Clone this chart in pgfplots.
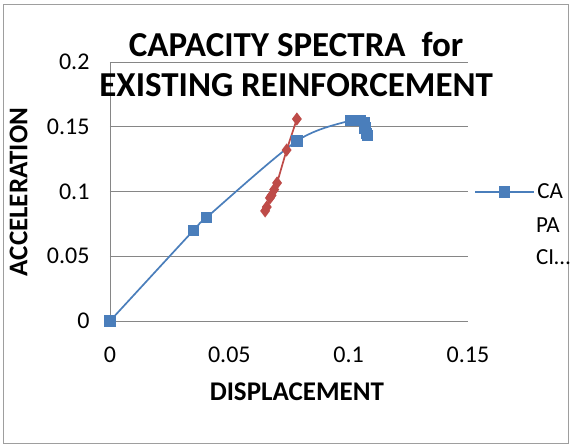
\documentclass[border=0pt]{standalone}
\usepackage{pgfplots}
\pgfplotsset{compat=1.18}
\usepackage{fontspec}
\setmainfont{Carlito}
\definecolor{serA}{HTML}{4A7EBB}
\definecolor{serB}{HTML}{BE4B48}
\definecolor{gridc}{HTML}{868686}
\begin{document}
\begin{tikzpicture}[x=1pt,y=1pt]
\useasboundingbox (0,0) rectangle (571,445);
\draw[gridc!80, line width=0.8pt] (3,2) rectangle (568,441);
\begin{axis}[
  at={(110pt,124pt)}, anchor=south west,
  scale only axis, width=358pt, height=259pt,
  xmin=0, xmax=0.15, ymin=0, ymax=0.2,
  xtick={0,0.05,0.1,0.15}, ytick={0,0.05,0.1,0.15,0.2},
  axis x line*=bottom, axis y line*=left,
  x axis line style={draw=none},
  y axis line style={gridc, line width=0.8pt},
  ymajorgrids, grid style={gridc, line width=0.8pt},
  major tick length=0pt,
  tick label style={font=\fontsize{24}{28}\selectfont},
  /pgf/number format/assume math mode=true,
  /pgf/number format/fixed,
  yticklabel style={xshift=-17pt},
  xticklabel style={yshift=-22pt},
  clip=false,
  legend style={draw=none, fill=none, at={(axis description cs:1.018,0.498)}, anchor=west,
    font=\fontsize{23}{28}\selectfont, inner sep=0pt, row sep=0pt,
    nodes={inner xsep=3pt}},
  legend cell align=left,
  legend image code/.code={\draw[#1, mark repeat=2, mark phase=2] plot coordinates {(0pt,0pt) (29pt,0pt) (58pt,0pt)};},
]
\addplot[serA, line width=1.7pt, smooth, tension=0.5, mark=square*, mark size=4.8pt, mark options={solid}]
  coordinates {(0,0) (0.035,0.070) (0.0405,0.080) (0.0783,0.139) (0.101,0.155) (0.103,0.155) (0.105,0.155) (0.1065,0.153) (0.1068,0.149) (0.1075,0.145) (0.108,0.143)};
\addlegendentry{CA}
\addplot[serB, line width=1.7pt, mark=diamond*, mark size=5.2pt, forget plot]
  coordinates {(0.0783,0.156) (0.074,0.132) (0.070,0.1066) (0.0688,0.1015) (0.0677,0.0970) (0.0670,0.0950) (0.0657,0.0880) (0.0650,0.0850)};
\node[font=\bfseries\fontsize{35}{40}\selectfont, align=center] at (axis description cs:0.52,0.99) {CAPACITY SPECTRA\ \ for\\EXISTING REINFORCEMENT};
\node[font=\bfseries\fontsize{27}{30}\selectfont] at (axis description cs:0.522,-0.274) {DISPLACEMENT};
\node[font=\bfseries\fontsize{27}{30}\selectfont, rotate=90] at (axis description cs:-0.255,0.498) {ACCELERATION};
\node[font=\fontsize{23}{28}\selectfont, anchor=west, inner xsep=0pt] at (axis description cs:1.19,0.372) {PA};
\node[font=\fontsize{23}{28}\selectfont, anchor=west, inner xsep=0pt] at (axis description cs:1.19,0.248) {CI\ldots};
\end{axis}
\end{tikzpicture}
\end{document}
